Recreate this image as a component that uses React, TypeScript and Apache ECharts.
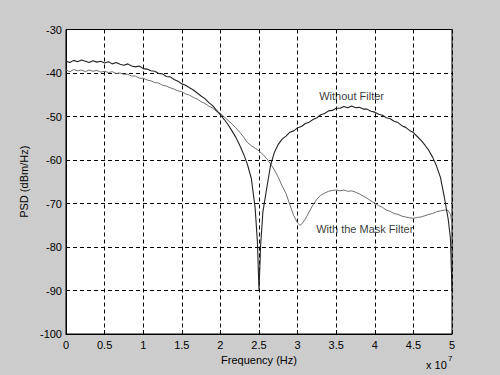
import React, { useEffect, useRef } from "react";
import * as echarts from "echarts";

// Frequency in units of 1e7 Hz
const freqNoFilter: number[] = [
  0.00, 0.05, 0.10, 0.15, 0.20, 0.25, 0.30, 0.35, 0.40, 0.45,
  0.50, 0.55, 0.60, 0.65, 0.70, 0.75, 0.80, 0.85, 0.90, 0.95,
  1.00, 1.05, 1.10, 1.15, 1.20, 1.25, 1.30, 1.35, 1.40, 1.45,
  1.50, 1.55, 1.60, 1.65, 1.70, 1.75, 1.80, 1.85, 1.90, 1.95,
  2.00, 2.05, 2.10, 2.15, 2.20, 2.25, 2.30, 2.35, 2.40, 2.45,
  2.48, 2.50, 2.52, 2.55, 2.60, 2.65, 2.70, 2.75, 2.80, 2.85,
  2.90, 2.95, 3.00, 3.05, 3.10, 3.15, 3.20, 3.25, 3.30, 3.35,
  3.40, 3.45, 3.50, 3.55, 3.60, 3.65, 3.70, 3.75, 3.80, 3.85,
  3.90, 3.95, 4.00, 4.05, 4.10, 4.15, 4.20, 4.25, 4.30, 4.35,
  4.40, 4.45, 4.50, 4.55, 4.60, 4.65, 4.70, 4.75, 4.80, 4.85,
  4.90, 4.95, 4.98, 5.00,
];
const psdNoFilter: number[] = [
  -37.3, -37.6, -37.1, -37.4, -37.0, -37.3, -37.6, -37.2, -37.5, -37.3,
  -37.7, -37.4, -37.9, -37.6, -38.0, -38.2, -37.9, -38.4, -38.6, -38.4,
  -39.0, -39.1, -39.5, -39.6, -40.1, -40.2, -40.8, -40.9, -41.5, -41.9,
  -42.5, -42.8, -43.4, -43.9, -44.6, -45.3, -45.9, -46.8, -47.5, -48.6,
  -49.6, -50.7, -51.9, -53.3, -54.8, -56.6, -58.6, -61.0, -64.2, -71.0,
  -79.0, -90.0, -80.0, -72.0, -66.5, -61.2, -58.2, -56.4, -55.2, -54.5,
  -53.6, -53.3, -52.6, -52.3, -51.6, -51.3, -50.7, -50.3, -49.6, -49.3,
  -48.7, -48.6, -48.1, -48.1, -47.7, -48.0, -47.6, -48.0, -47.9, -48.3,
  -48.3, -48.8, -49.0, -49.5, -49.7, -50.3, -50.5, -51.1, -51.4, -52.1,
  -52.5, -53.2, -53.7, -54.6, -55.5, -56.6, -57.8, -59.4, -61.4, -64.0,
  -68.5, -73.5, -78.0, -90.0,
];

const freqMaskFilter: number[] = [
  0.00, 0.05, 0.10, 0.15, 0.20, 0.25, 0.30, 0.35, 0.40, 0.45,
  0.50, 0.55, 0.60, 0.65, 0.70, 0.75, 0.80, 0.85, 0.90, 0.95,
  1.00, 1.05, 1.10, 1.15, 1.20, 1.25, 1.30, 1.35, 1.40, 1.45,
  1.50, 1.55, 1.60, 1.65, 1.70, 1.75, 1.80, 1.85, 1.90, 1.95,
  2.00, 2.05, 2.10, 2.15, 2.20, 2.25, 2.30, 2.35, 2.40, 2.45,
  2.50, 2.55, 2.60, 2.65, 2.70, 2.75, 2.80, 2.85, 2.90, 2.95,
  3.00, 3.03, 3.05, 3.10, 3.15, 3.20, 3.25, 3.30, 3.35, 3.40,
  3.45, 3.50, 3.55, 3.60, 3.65, 3.70, 3.75, 3.80, 3.85, 3.90,
  3.95, 4.00, 4.05, 4.10, 4.15, 4.20, 4.25, 4.30, 4.35, 4.40,
  4.45, 4.50, 4.55, 4.60, 4.65, 4.70, 4.75, 4.80, 4.85, 4.90,
  4.95, 4.98, 5.00,
];
const psdMaskFilter: number[] = [
  -39.3, -39.7, -39.2, -39.5, -39.3, -39.7, -39.3, -39.6, -39.4, -39.8,
  -39.6, -39.9, -39.7, -40.1, -40.0, -40.3, -40.3, -40.7, -40.7, -41.2,
  -41.2, -41.6, -41.8, -42.2, -42.3, -42.8, -43.0, -43.4, -43.7, -44.1,
  -44.3, -44.8, -45.1, -45.6, -46.0, -46.6, -47.0, -47.6, -48.1, -48.8,
  -49.3, -50.1, -50.9, -51.7, -52.6, -53.6, -54.7, -56.0, -56.7, -57.3,
  -57.9, -58.7, -59.7, -60.9, -62.3, -64.0, -66.0, -67.7, -70.3, -72.8,
  -74.5, -75.0, -74.8, -73.6, -71.9, -70.3, -69.0, -68.1, -67.6, -67.2,
  -67.0, -66.9, -67.1, -66.9, -67.2, -67.1, -67.4, -67.8, -68.3, -68.8,
  -69.4, -69.9, -70.5, -70.9, -71.5, -71.8, -72.3, -72.5, -72.9, -73.1,
  -73.3, -73.4, -73.2, -73.1, -72.8, -72.5, -72.3, -71.9, -71.7, -71.5,
  -71.6, -72.5, -74.5,
];

const xTickStep = 0.5;
const yTickStep = 10;
const labelWithout = "Without Filter";
const labelMask = "With the Mask Filter";
const labelWithoutAt: [number, number] = [3.28, -45.4];
const labelMaskAt: [number, number] = [3.24, -75.9];

const FONT = "'Liberation Sans', Arial, sans-serif";

export default function App() {
  const ref = useRef<HTMLDivElement>(null);
  useEffect(() => {
    document.body.style.margin = "0";
    if (!ref.current) return;
    const chart = echarts.init(ref.current, undefined, { renderer: "svg" });
    const zip = (xs: number[], ys: number[]) => xs.map((x, i) => [x, ys[i]]);
    const gridLine = { show: true, lineStyle: { color: "#000", width: 1, type: [4, 3] as any } };
    chart.setOption({
      animation: false,
      backgroundColor: "#cccccc",
      textStyle: { fontFamily: FONT },
      grid: {
        left: 66,
        right: 48,
        top: 29.5,
        bottom: 41,
        show: true,
        backgroundColor: "#ffffff",
        borderColor: "#000",
        borderWidth: 1,
      },
      xAxis: {
        type: "value",
        min: 0,
        max: 5,
        interval: xTickStep,
        name: "Frequency (Hz)",
        nameLocation: "middle",
        nameGap: 19,
        nameTextStyle: { color: "#000", fontSize: 11, fontFamily: FONT },
        axisLine: { show: true, onZero: false, lineStyle: { color: "#000", width: 1 } },
        axisTick: { show: true, inside: true, length: 4, lineStyle: { color: "#000" } },
        axisLabel: {
          color: "#000",
          fontSize: 11,
          fontFamily: FONT,
          margin: 5,
          formatter: (v: number) => String(v),
        },
        splitLine: gridLine,
      },
      yAxis: {
        type: "value",
        min: -100,
        max: -30,
        interval: yTickStep,
        name: "PSD (dBm/Hz)",
        nameLocation: "middle",
        nameGap: 27,
        nameTextStyle: { color: "#000", fontSize: 11, fontFamily: FONT },
        axisLine: { show: true, onZero: false, lineStyle: { color: "#000", width: 1 } },
        axisTick: { show: true, inside: true, length: 4, lineStyle: { color: "#000" } },
        axisLabel: { color: "#000", fontSize: 11, fontFamily: FONT, margin: 4 },
        splitLine: gridLine,
      },
      series: [
        {
          type: "line",
          name: "With the Mask Filter",
          data: zip(freqMaskFilter, psdMaskFilter),
          showSymbol: false,
          symbol: "none",
          lineStyle: { color: "#707070", width: 1 },
          z: 3,
        },
        {
          type: "line",
          name: "Without Filter",
          data: zip(freqNoFilter, psdNoFilter),
          showSymbol: false,
          symbol: "none",
          lineStyle: { color: "#222222", width: 1.1 },
          z: 4,
        },
        {
          type: "scatter",
          symbolSize: 0,
          silent: true,
          data: [
            { value: labelWithoutAt, label: { formatter: labelWithout } },
            { value: labelMaskAt, label: { formatter: labelMask } },
          ],
          label: {
            show: true,
            position: "right",
            distance: 0,
            color: "#000",
            fontSize: 11,
            fontFamily: FONT,
          },
          z: 5,
        },
      ],
      graphic: [
        {
          type: "text",
          x: 426,
          y: 365,
          style: { text: "x 10", fill: "#000", fontSize: 11, fontFamily: FONT, verticalAlign: "middle" },
        },
        {
          type: "text",
          x: 448,
          y: 358,
          style: { text: "7", fill: "#000", fontSize: 8, fontFamily: FONT, verticalAlign: "middle" },
        },
      ],
    });
    return () => chart.dispose();
  }, []);
  return <div ref={ref} style={{ width: 500, height: 375 }} />;
}
